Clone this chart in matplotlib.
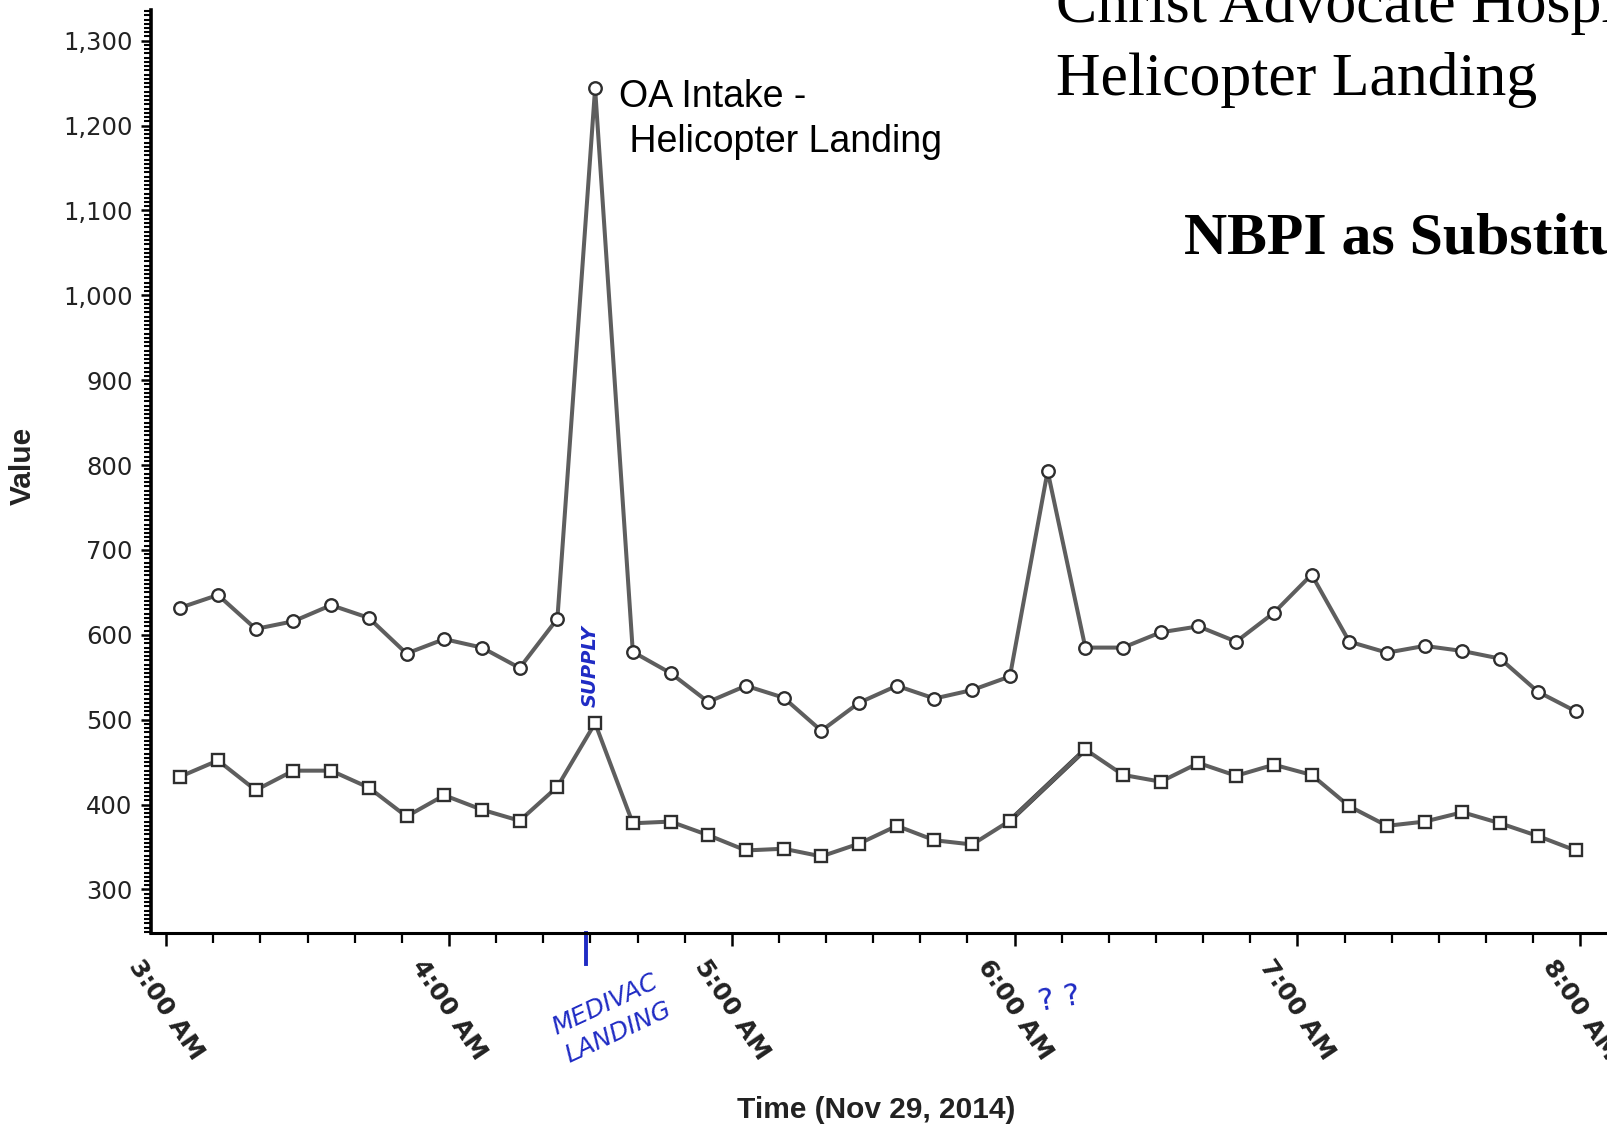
import matplotlib
matplotlib.use("Agg")
import matplotlib.pyplot as plt
import matplotlib.dates as mdates
import matplotlib.ticker as mticker
import matplotlib.transforms as mtransforms
import numpy as np
import pandas as pd

# sample times (Nov 29, 2014)
time_labels = ["03:03", "03:11", "03:19", "03:27", "03:35", "03:43", "03:51", "03:59",
               "04:07", "04:15", "04:23", "04:31", "04:39", "04:47", "04:55", "05:03",
               "05:11", "05:19", "05:27", "05:35", "05:43", "05:51", "05:59", "06:07",
               "06:15", "06:23", "06:31", "06:39", "06:47", "06:55", "07:03", "07:11",
               "07:19", "07:27", "07:35", "07:43", "07:51", "07:59"]

# circle series (upper)
oa_intake = [632, 647, 607, 616, 635, 620, 578, 595, 585, 561, 619, 1244, 580, 555,
             521, 540, 526, 487, 520, 540, 525, 535, 551, 793, 585, 585, 603, 610,
             592, 626, 671, 592, 579, 587, 581, 572, 533, 510]

# square series (lower), one missing sample
supply = [433, 452, 417, 440, 440, 420, 386, 411, 394, 381, 421, 496, 378, 380,
          364, 346, 348, 339, 354, 375, 358, 353, 381, None, 465, 435, 427, 449,
          434, 447, 435, 398, 375, 380, 391, 378, 363, 346]

medivac_time = "04:29"
day = "2014-11-29 "

times = pd.to_datetime([day + t for t in time_labels]).to_numpy()
tnum = mdates.date2num(times)
top = np.array(oa_intake, dtype=float)
low = np.array(supply, dtype=float)

line_col = "#5e5e5e"
edge_col = "#2e2e2e"
ink = "#1f2bc4"

plt.rcParams["font.family"] = ["DejaVu Sans"]

fig = plt.figure(figsize=(16.07, 11.32), dpi=100)
ax = fig.add_axes([0.0938, 0.176, 0.9062, 0.815])

ax.plot(times, top, color=line_col, lw=2.9, marker="o", ms=9,
        mfc="white", mec=edge_col, mew=1.7, zorder=3)

ok = ~np.isnan(low)
ax.plot(times[ok], low[ok], color=line_col, lw=2.9, marker="s", ms=8,
        mfc="white", mec=edge_col, mew=1.7, zorder=3)
# segment bridging the missing sample
for i in np.where(~ok)[0]:
    ax.plot([times[i - 1], times[i + 1]], [low[i - 1], low[i + 1]],
            color="#333333", lw=3.6, zorder=2)

ax.set_xlim(pd.Timestamp(day + "02:56:44"), pd.Timestamp(day + "08:05:40"))
ax.set_ylim(249, 1336)

ax.yaxis.set_major_locator(mticker.MultipleLocator(100))
ax.yaxis.set_minor_locator(mticker.MultipleLocator(5))
ax.yaxis.set_major_formatter(mticker.StrMethodFormatter("{x:,.0f}"))
ax.xaxis.set_major_locator(mdates.HourLocator())
ax.xaxis.set_minor_locator(mdates.MinuteLocator(byminute=range(0, 60, 10)))
ax.xaxis.set_major_formatter(mdates.DateFormatter("%-I:%M %p"))

for s in ["top", "right"]:
    ax.spines[s].set_visible(False)
ax.spines["left"].set_linewidth(2.6)
ax.spines["bottom"].set_linewidth(2.2)

ax.tick_params(axis="y", which="major", length=7, width=1.8, pad=6,
               labelsize=17.5, labelcolor="#222222")
ax.tick_params(axis="y", which="minor", length=5, width=1.5)
ax.tick_params(axis="x", which="major", length=9, width=1.8, pad=7)
ax.tick_params(axis="x", which="minor", length=7, width=1.6)
for lab in ax.get_xticklabels():
    lab.set_rotation(-56)
    lab.set_ha("center")
    lab.set_va("top")
    lab.set_fontsize(18)
    lab.set_fontweight("bold")
    lab.set_color("#222222")

fig.text(0.014, 0.588, "Value", rotation=90, ha="center", va="center",
         fontsize=21.5, fontweight="bold", family="Liberation Sans",
         color="#222222")
fig.text(0.545, 0.0194, "Time (Nov 29, 2014)", ha="center", va="center",
         fontsize=21.5, fontweight="bold", family="Liberation Sans",
         color="#222222")

# label at the intake peak
peak = int(np.argmax(top))
ax.annotate("OA Intake -\n Helicopter Landing", xy=(tnum[peak], top[peak]),
            xytext=(24, 9), textcoords="offset pixels", ha="left", va="top",
            fontsize=27, family="Liberation Sans", linespacing=1.32)

# slide title text (cut off at the right edge)
fig.text(0.657, 1 - 22 / 1132, "Christ Advocate Hospital", ha="left",
         va="baseline", fontsize=44.5, family="Liberation Serif")
fig.text(0.657, 1 - 95 / 1132, "Helicopter Landing", ha="left",
         va="baseline", fontsize=44.5, family="Liberation Serif")
fig.text(0.737, 1 - 253 / 1132, "NBPI as Substitute", ha="left",
         va="baseline", fontsize=43, fontweight="bold", family="Liberation Serif")

# handwritten notes
speak = int(np.nanargmax(low))
ax.annotate("SUPPLY", xy=(tnum[speak], low[speak]), xytext=(-5, 57),
            textcoords="offset pixels", rotation=90, ha="center", va="center",
            fontsize=14, fontweight="bold", style="italic", color=ink)

mt = mdates.date2num(pd.Timestamp(day + medivac_time))
trans = mtransforms.blended_transform_factory(ax.transData, ax.transAxes)
ax.plot([mt, mt], [0.0, -0.034], color=ink, lw=2.8, transform=trans,
        clip_on=False)
ax.annotate("MEDIVAC\nLANDING", xy=(mt, 0), xycoords=trans, xytext=(26, -86),
            textcoords="offset pixels", rotation=25, ha="center", va="center",
            fontsize=18, style="italic", color=ink, linespacing=1.35)

spike = int(np.argmax(top[12:])) + 12
ax.annotate("? ?", xy=(tnum[spike], 0), xycoords=trans, xytext=(12, -66),
            textcoords="offset pixels", ha="center", va="center",
            fontsize=22, color=ink, rotation=10)

fig.savefig("out.png", dpi=100, facecolor="white")
